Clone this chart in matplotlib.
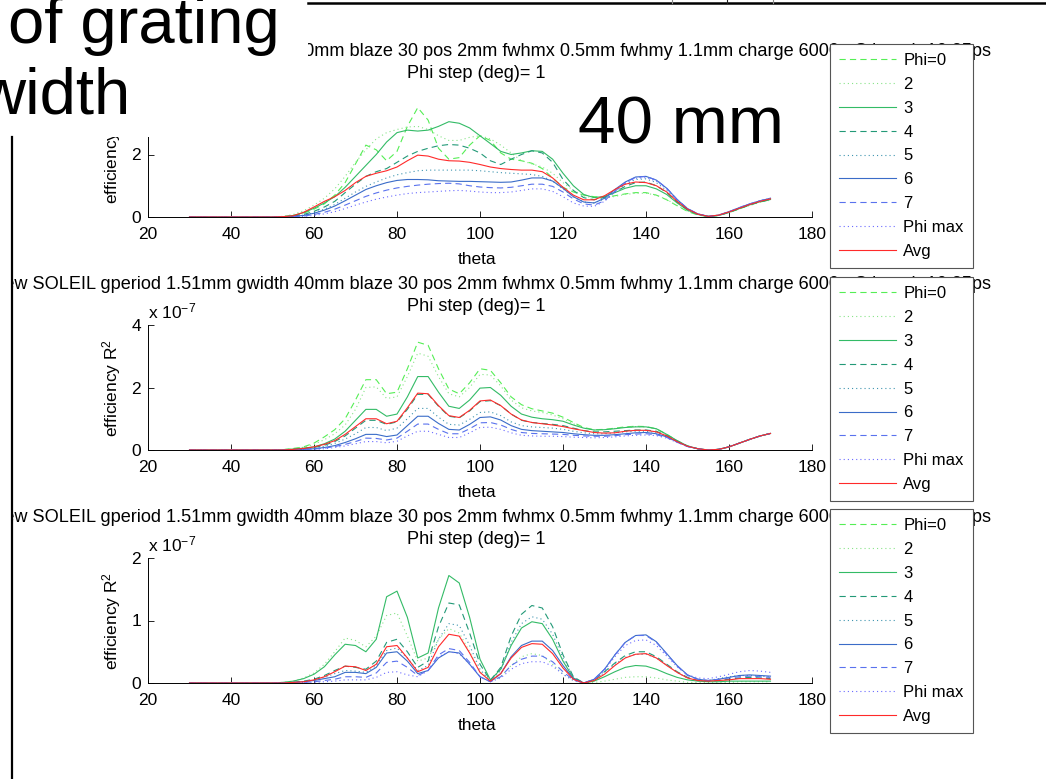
import matplotlib
matplotlib.use('Agg')
import matplotlib.pyplot as plt
from matplotlib.patches import Rectangle
from matplotlib.lines import Line2D
from matplotlib.transforms import offset_copy

# ---------------- data ----------------
THETA = [30, 50, 52.5, 55, 57.5, 60, 62.5, 65, 67.5, 70,
         72.5, 75, 77.5, 80, 82.5, 85, 87.5, 90, 92.5, 95,
         97.5, 100, 102.5, 105, 107.5, 110, 112.5, 115, 117.5, 120,
         122.5, 125, 127.5, 130, 132.5, 135, 137.5, 140, 142.5, 145,
         147.5, 150, 152.5, 155, 157.5, 160, 162.5, 165, 167.5, 170]

LABELS = ['Phi=0', '2', '3', '4', '5', '6', '7', 'Phi max', 'Avg']

# panel 1 (values in units of 1e-7)
p1_phi0 = [0, 0, 0.01, 0.04, 0.12, 0.25, 0.42, 0.7, 1.1, 1.7,
           2.3, 2.15, 1.8, 2.1, 2.9, 3.5, 3.1, 2.2, 1.85, 1.9,
           2.3, 2.6, 2.45, 2.05, 1.85, 1.8, 1.72, 1.55, 1.25, 0.95,
           0.8, 0.7, 0.65, 0.63, 0.68, 0.74, 0.78, 0.78, 0.7, 0.55,
           0.36, 0.18, 0.06, 0.02, 0.05, 0.14, 0.26, 0.38, 0.48, 0.55]
p1_s2 = [0, 0, 0.02, 0.08, 0.2, 0.38, 0.6, 0.9, 1.3, 1.75,
         2.15, 2.5, 2.7, 2.8, 2.88, 2.9, 2.8, 2.6, 2.45, 2.45,
         2.55, 2.6, 2.5, 2.3, 2.05, 1.8, 1.7, 1.6, 1.4, 1.1,
         0.85, 0.68, 0.6, 0.6, 0.66, 0.72, 0.76, 0.76, 0.7, 0.56,
         0.37, 0.19, 0.07, 0.02, 0.05, 0.14, 0.26, 0.37, 0.47, 0.54]
p1_s3 = [0, 0, 0.01, 0.05, 0.14, 0.28, 0.45, 0.65, 0.95, 1.3,
         1.65, 2.0, 2.4, 2.7, 2.78, 2.75, 2.78, 2.9, 3.05, 3.0,
         2.85, 2.6, 2.35, 2.1, 2.0, 2.05, 2.12, 2.1, 1.85, 1.4,
         1.0, 0.72, 0.62, 0.66, 0.78, 0.92, 1.0, 1.0, 0.9, 0.72,
         0.45, 0.22, 0.08, 0.02, 0.05, 0.15, 0.27, 0.39, 0.49, 0.56]
p1_s4 = [0, 0, 0.01, 0.03, 0.08, 0.18, 0.32, 0.5, 0.78, 1.05,
         1.3, 1.45, 1.55, 1.75, 1.95, 2.1, 2.2, 2.28, 2.32, 2.3,
         2.2, 2.05, 1.8, 1.68, 1.85, 2.0, 2.12, 2.05, 1.75, 1.2,
         0.85, 0.62, 0.55, 0.63, 0.8, 0.98, 1.1, 1.12, 1.0, 0.78,
         0.48, 0.23, 0.08, 0.02, 0.05, 0.15, 0.27, 0.39, 0.49, 0.56]
p1_s5 = [0, 0, 0.01, 0.02, 0.06, 0.14, 0.25, 0.4, 0.6, 0.8,
         0.98, 1.12, 1.25, 1.35, 1.42, 1.48, 1.5, 1.5, 1.5, 1.5,
         1.5, 1.48, 1.45, 1.42, 1.4, 1.38, 1.36, 1.3, 1.15, 0.9,
         0.65, 0.48, 0.45, 0.58, 0.82, 1.05, 1.2, 1.22, 1.1, 0.85,
         0.52, 0.25, 0.09, 0.02, 0.06, 0.16, 0.28, 0.4, 0.5, 0.58]
p1_s6 = [0, 0, 0, 0.02, 0.05, 0.12, 0.22, 0.35, 0.52, 0.7,
         0.88, 1.0, 1.1, 1.17, 1.2, 1.2, 1.19, 1.16, 1.15, 1.14,
         1.14, 1.13, 1.12, 1.11, 1.12, 1.18, 1.25, 1.25, 1.15, 0.92,
         0.65, 0.48, 0.45, 0.6, 0.88, 1.12, 1.28, 1.3, 1.18, 0.92,
         0.56, 0.27, 0.1, 0.02, 0.06, 0.17, 0.3, 0.42, 0.52, 0.6]
p1_s7 = [0, 0, 0, 0.01, 0.03, 0.08, 0.15, 0.25, 0.38, 0.52,
         0.66, 0.77, 0.86, 0.93, 0.98, 1.02, 1.05, 1.07, 1.08, 1.06,
         1.0, 0.96, 0.94, 0.93, 0.95, 1.0, 1.05, 1.05, 0.98, 0.8,
         0.58, 0.42, 0.38, 0.52, 0.82, 1.1, 1.27, 1.3, 1.18, 0.92,
         0.56, 0.27, 0.1, 0.02, 0.06, 0.17, 0.3, 0.42, 0.52, 0.6]
p1_max = [0, 0, 0, 0.01, 0.02, 0.05, 0.1, 0.17, 0.27, 0.38,
          0.48, 0.57, 0.64, 0.7, 0.75, 0.78, 0.8, 0.82, 0.84, 0.85,
          0.83, 0.8, 0.78, 0.78, 0.8, 0.85, 0.9, 0.9, 0.82, 0.65,
          0.45, 0.35, 0.34, 0.5, 0.8, 1.08, 1.24, 1.26, 1.15, 0.9,
          0.55, 0.26, 0.09, 0.02, 0.06, 0.17, 0.3, 0.42, 0.52, 0.6]
p1_avg = [0, 0, 0.01, 0.04, 0.15, 0.32, 0.5, 0.65, 0.85, 1.1,
          1.3, 1.4, 1.48, 1.6, 1.8, 1.98, 1.95, 1.85, 1.8, 1.79,
          1.75, 1.68, 1.6, 1.55, 1.52, 1.5, 1.5, 1.45, 1.25, 0.95,
          0.7, 0.55, 0.55, 0.68, 0.88, 1.05, 1.12, 1.1, 1.0, 0.8,
          0.5, 0.25, 0.09, 0.02, 0.06, 0.16, 0.28, 0.4, 0.5, 0.58]

# panel 2
p2_phi0 = [0, 0, 0.01, 0.05, 0.1, 0.22, 0.42, 0.65, 1.0, 1.6,
           2.25, 2.25, 1.8, 1.85, 2.6, 3.45, 3.35, 2.6, 1.95, 1.8,
           2.15, 2.6, 2.55, 2.15, 1.7, 1.45, 1.32, 1.25, 1.18, 1.05,
           0.88, 0.72, 0.65, 0.66, 0.7, 0.74, 0.76, 0.75, 0.68, 0.5,
           0.3, 0.13, 0.04, 0.0, 0.02, 0.1, 0.22, 0.34, 0.45, 0.53]
p2_s2 = [0, 0, 0.01, 0.04, 0.09, 0.18, 0.33, 0.52, 0.8, 1.3,
         2.0, 2.02, 1.65, 1.7, 2.35, 3.1, 3.0, 2.35, 1.8, 1.7,
         2.0, 2.42, 2.4, 2.05, 1.6, 1.35, 1.25, 1.2, 1.12, 1.0,
         0.84, 0.7, 0.64, 0.65, 0.69, 0.73, 0.75, 0.74, 0.67, 0.49,
         0.29, 0.13, 0.04, 0.0, 0.02, 0.1, 0.22, 0.34, 0.45, 0.53]
p2_s3 = [0, 0, 0.01, 0.03, 0.06, 0.1, 0.2, 0.35, 0.6, 0.95,
         1.3, 1.3, 1.08, 1.15, 1.7, 2.35, 2.35, 1.85, 1.4, 1.33,
         1.6, 1.98, 2.0, 1.75, 1.4, 1.15, 1.05, 1.0, 0.97, 0.92,
         0.8, 0.7, 0.64, 0.65, 0.68, 0.72, 0.74, 0.74, 0.68, 0.5,
         0.3, 0.13, 0.04, 0.0, 0.02, 0.1, 0.22, 0.34, 0.45, 0.53]
p2_s4 = [0, 0, 0, 0.02, 0.04, 0.08, 0.15, 0.27, 0.45, 0.7,
         0.95, 0.95, 0.82, 0.9, 1.3, 1.78, 1.78, 1.4, 1.08, 1.03,
         1.25, 1.55, 1.58, 1.42, 1.15, 0.95, 0.88, 0.85, 0.82, 0.78,
         0.7, 0.62, 0.58, 0.58, 0.6, 0.62, 0.64, 0.64, 0.6, 0.46,
         0.28, 0.12, 0.04, 0.0, 0.02, 0.1, 0.22, 0.34, 0.45, 0.53]
p2_s5 = [0, 0, 0, 0.01, 0.03, 0.06, 0.12, 0.21, 0.35, 0.52,
         0.72, 0.72, 0.62, 0.7, 1.0, 1.33, 1.33, 1.05, 0.82, 0.8,
         0.98, 1.2, 1.22, 1.1, 0.9, 0.78, 0.74, 0.72, 0.7, 0.66,
         0.6, 0.55, 0.52, 0.52, 0.55, 0.58, 0.6, 0.6, 0.56, 0.44,
         0.27, 0.12, 0.04, 0.0, 0.02, 0.1, 0.22, 0.34, 0.45, 0.53]
p2_s6 = [0, 0, 0, 0.01, 0.02, 0.04, 0.08, 0.14, 0.24, 0.36,
         0.5, 0.5, 0.43, 0.48, 0.78, 1.08, 1.08, 0.85, 0.66, 0.64,
         0.82, 1.04, 1.06, 0.96, 0.78, 0.66, 0.62, 0.6, 0.58, 0.56,
         0.52, 0.49, 0.47, 0.47, 0.49, 0.52, 0.55, 0.56, 0.52, 0.42,
         0.26, 0.12, 0.04, 0.0, 0.02, 0.1, 0.22, 0.34, 0.45, 0.53]
p2_s7 = [0, 0, 0, 0.01, 0.02, 0.03, 0.06, 0.11, 0.18, 0.27,
         0.38, 0.37, 0.32, 0.38, 0.6, 0.83, 0.83, 0.66, 0.52, 0.52,
         0.68, 0.87, 0.88, 0.8, 0.66, 0.56, 0.53, 0.52, 0.51, 0.5,
         0.47, 0.45, 0.44, 0.44, 0.46, 0.49, 0.51, 0.52, 0.49, 0.4,
         0.25, 0.11, 0.04, 0.0, 0.02, 0.1, 0.22, 0.34, 0.45, 0.53]
p2_max = [0, 0, 0, 0, 0.01, 0.02, 0.04, 0.08, 0.13, 0.2,
          0.27, 0.27, 0.23, 0.28, 0.45, 0.6, 0.6, 0.5, 0.4, 0.4,
          0.55, 0.72, 0.73, 0.66, 0.55, 0.47, 0.45, 0.44, 0.44, 0.43,
          0.41, 0.4, 0.39, 0.4, 0.42, 0.45, 0.47, 0.48, 0.46, 0.38,
          0.24, 0.11, 0.04, 0.0, 0.02, 0.1, 0.22, 0.34, 0.45, 0.53]
p2_avg = [0, 0, 0, 0.02, 0.05, 0.1, 0.18, 0.3, 0.5, 0.75,
          1.0, 1.0, 0.84, 0.92, 1.35, 1.82, 1.8, 1.42, 1.1, 1.04,
          1.27, 1.57, 1.6, 1.42, 1.15, 0.96, 0.88, 0.84, 0.8, 0.75,
          0.68, 0.62, 0.56, 0.54, 0.55, 0.6, 0.63, 0.63, 0.58, 0.45,
          0.27, 0.12, 0.04, 0.0, 0.02, 0.1, 0.22, 0.34, 0.45, 0.53]

# panel 3
p3_phi0 = [0, 0, 0, 0, 0, 0, 0, 0, 0, 0,
           0, 0, 0, 0, 0, 0, 0, 0, 0, 0,
           0, 0, 0, 0, 0, 0, 0, 0, 0, 0,
           0, 0, 0, 0, 0, 0, 0, 0, 0, 0,
           0, 0, 0, 0, 0, 0, 0, 0, 0, 0]
p3_s2 = [0, 0, 0.01, 0.03, 0.08, 0.16, 0.3, 0.5, 0.72, 0.68,
         0.58, 0.75, 1.08, 1.12, 0.75, 0.35, 0.4, 0.7, 0.87, 0.8,
         0.5, 0.18, 0.04, 0.1, 0.28, 0.42, 0.47, 0.44, 0.3, 0.14,
         0.04, 0.0, 0.01, 0.03, 0.06, 0.09, 0.1, 0.1, 0.08, 0.05,
         0.03, 0.01, 0.01, 0.01, 0.01, 0.01, 0.02, 0.02, 0.02, 0.02]
p3_s3 = [0, 0, 0.01, 0.03, 0.07, 0.14, 0.26, 0.45, 0.62, 0.6,
         0.5, 0.7, 1.38, 1.47, 1.05, 0.4, 0.48, 1.2, 1.72, 1.6,
         1.05, 0.38, 0.05, 0.22, 0.6, 0.88, 0.98, 0.95, 0.7, 0.35,
         0.08, 0.0, 0.03, 0.1, 0.18, 0.25, 0.28, 0.27, 0.22, 0.15,
         0.09, 0.05, 0.03, 0.02, 0.02, 0.03, 0.03, 0.03, 0.03, 0.03]
p3_s4 = [0, 0, 0, 0.01, 0.03, 0.06, 0.12, 0.2, 0.27, 0.25,
         0.22, 0.35, 0.65, 0.7, 0.5, 0.25, 0.35, 0.9, 1.28, 1.25,
         0.8, 0.3, 0.04, 0.25, 0.75, 1.1, 1.24, 1.2, 0.9, 0.45,
         0.1, 0.0, 0.05, 0.18, 0.32, 0.44, 0.5, 0.5, 0.42, 0.3,
         0.18, 0.09, 0.04, 0.03, 0.04, 0.06, 0.08, 0.09, 0.08, 0.07]
p3_s5 = [0, 0, 0, 0.01, 0.02, 0.05, 0.09, 0.15, 0.2, 0.19,
         0.17, 0.28, 0.52, 0.56, 0.4, 0.2, 0.28, 0.7, 0.95, 0.92,
         0.6, 0.22, 0.03, 0.2, 0.65, 0.95, 1.06, 1.02, 0.78, 0.4,
         0.09, 0.0, 0.05, 0.17, 0.3, 0.41, 0.46, 0.46, 0.4, 0.29,
         0.17, 0.08, 0.04, 0.04, 0.07, 0.1, 0.12, 0.12, 0.11, 0.1]
p3_s6 = [0, 0, 0, 0.01, 0.02, 0.04, 0.07, 0.1, 0.17, 0.17,
         0.15, 0.25, 0.48, 0.5, 0.35, 0.15, 0.2, 0.4, 0.5, 0.48,
         0.3, 0.1, 0.02, 0.15, 0.42, 0.6, 0.67, 0.67, 0.52, 0.28,
         0.07, 0.0, 0.06, 0.22, 0.45, 0.65, 0.76, 0.77, 0.66, 0.47,
         0.28, 0.13, 0.06, 0.04, 0.06, 0.09, 0.12, 0.13, 0.12, 0.11]
p3_s7 = [0, 0, 0, 0, 0.01, 0.02, 0.04, 0.06, 0.1, 0.1,
         0.09, 0.16, 0.33, 0.35, 0.25, 0.12, 0.2, 0.45, 0.55, 0.52,
         0.33, 0.1, 0.02, 0.1, 0.28, 0.38, 0.43, 0.43, 0.34, 0.18,
         0.05, 0.0, 0.06, 0.22, 0.45, 0.65, 0.76, 0.76, 0.65, 0.46,
         0.27, 0.12, 0.06, 0.04, 0.06, 0.08, 0.1, 0.11, 0.1, 0.09]
p3_max = [0, 0, 0, 0, 0.01, 0.01, 0.02, 0.03, 0.05, 0.05,
          0.05, 0.09, 0.17, 0.18, 0.13, 0.1, 0.2, 0.42, 0.5, 0.47,
          0.3, 0.1, 0.02, 0.08, 0.22, 0.31, 0.34, 0.34, 0.27, 0.14,
          0.04, 0.0, 0.06, 0.2, 0.42, 0.6, 0.68, 0.69, 0.6, 0.43,
          0.26, 0.13, 0.08, 0.07, 0.1, 0.14, 0.18, 0.2, 0.19, 0.17]
p3_avg = [0, 0, 0, 0.01, 0.02, 0.05, 0.1, 0.18, 0.27, 0.26,
          0.2, 0.3, 0.58, 0.6, 0.4, 0.18, 0.25, 0.58, 0.78, 0.75,
          0.48, 0.17, 0.03, 0.15, 0.4, 0.57, 0.63, 0.62, 0.47, 0.24,
          0.06, 0.0, 0.04, 0.14, 0.28, 0.4, 0.46, 0.47, 0.4, 0.28,
          0.17, 0.08, 0.04, 0.03, 0.04, 0.05, 0.07, 0.07, 0.07, 0.06]

XTICKS = [20, 40, 60, 80, 100, 120, 140, 160, 180]
YTICKS_1 = [0, 2, 4]
YTICKS_2 = [0, 2, 4]
YTICKS_3 = [0, 1, 2]
TITLE_MAIN = ('SR New SOLEIL gperiod 1.51mm gwidth 40mm blaze 30 pos 2mm fwhmx 0.5mm '
              'fwhmy 1.1mm charge 6000 pC length 10.35ps')
SUBTITLE = 'Phi step (deg)= 1'

# ---------------- styling ----------------
COLORS = ['#55ee55', '#88e488', '#33bb66', '#229977', '#3f95b0',
          '#3a6cc8', '#5a72ee', '#6b6bff', '#ff2a2a']
STYLES = [(0, (4.5, 3)), (0, (0.8, 2.2)), '-', (0, (4.5, 3)), (0, (0.8, 2.2)),
          '-', (0, (4.5, 3)), (0, (0.8, 2.2)), '-']

plt.rcParams.update({
    'font.family': ['Liberation Sans', 'DejaVu Sans'],
    'mathtext.fontset': 'custom',
    'mathtext.rm': 'Liberation Sans',
    'mathtext.it': 'Liberation Sans:italic',
    'mathtext.bf': 'Liberation Sans:bold',
    'lines.scale_dashes': False,
    'axes.linewidth': 0.7,
})

W, H = 1046, 779
fig = plt.figure(figsize=(W / 100, H / 100), dpi=100)


def fx(px):
    return px / W


def fy(py):
    return 1 - py / H


panels = [
    (217, [p1_phi0, p1_s2, p1_s3, p1_s4, p1_s5, p1_s6, p1_s7, p1_max, p1_avg], 4, YTICKS_1, 44),
    (450, [p2_phi0, p2_s2, p2_s3, p2_s4, p2_s5, p2_s6, p2_s7, p2_max, p2_avg], 4, YTICKS_2, 277),
    (683, [p3_phi0, p3_s2, p3_s3, p3_s4, p3_s5, p3_s6, p3_s7, p3_max, p3_avg], 2, YTICKS_3, 509),
]

for bottom_px, series, ymax, yticks, leg_top in panels:
    ax = fig.add_axes([fx(148), fy(bottom_px), 664 / W, 125 / H])
    handles = []
    for vals, col, ls, lab in zip(series, COLORS, STYLES, LABELS):
        h, = ax.plot(THETA, vals, color=col, linestyle=ls, linewidth=0.8, label=lab)
        handles.append(h)
    ax.set_xlim(20, 180)
    ax.set_ylim(0, ymax)
    ax.set_xticks(XTICKS)
    ax.set_yticks(yticks)
    for s in ('top', 'right'):
        ax.spines[s].set_visible(False)
    ax.tick_params(direction='in', length=4.5, width=0.6, labelsize=12.5)
    ax.tick_params(axis='x', pad=7)
    ax.tick_params(axis='y', pad=5)
    ax.set_xlabel('theta', fontsize=12.5, va='top')
    ax.xaxis.set_label_coords(0.495, -0.28)
    ax.set_ylabel('efficiency R$^2$', fontsize=12.5)
    ax.yaxis.set_label_coords(-0.038, 0.5)
    ax.text(0, 1, 'x 10$^{-7}$', fontsize=12.5, ha='left', va='baseline',
            transform=offset_copy(ax.transAxes, fig=fig, x=0, y=7, units='dots'))
    ax.set_title(TITLE_MAIN + '\n' + SUBTITLE, fontsize=13.1, linespacing=1.38, pad=10,
                 x=0.494)
    leg = ax.legend(handles=handles, loc='upper left',
                    bbox_to_anchor=(fx(830), fy(leg_top)), bbox_transform=fig.transFigure,
                    borderaxespad=0, fancybox=False, framealpha=1, edgecolor='#555555',
                    fontsize=12, handlelength=3.4, handletextpad=0.45,
                    labelspacing=0.53, borderpad=0.55)
    leg.get_frame().set_linewidth(0.8)

# ---------------- slide overlay ----------------
fig.add_artist(Rectangle((0, fy(137)), fx(308), 137 / H, transform=fig.transFigure,
                         facecolor='white', edgecolor='none', zorder=10))
fig.add_artist(Rectangle((0, 0), fx(12), fy(137), transform=fig.transFigure,
                         facecolor='white', edgecolor='none', zorder=10))
fig.add_artist(Line2D([fx(12), fx(12)], [fy(137), fy(779)], transform=fig.transFigure,
                      color='black', linewidth=1.6, zorder=11))
fig.add_artist(Line2D([fx(308), fx(1046)], [fy(3), fy(3)], transform=fig.transFigure,
                      color='black', linewidth=1.8, zorder=11))
for xv, cv in ((672, '#888888'), (727, '#222222'), (773, '#888888')):
    fig.add_artist(Line2D([fx(xv), fx(xv)], [fy(0), fy(3)], transform=fig.transFigure,
                          color=cv, linewidth=0.8, zorder=11))

fig.text(fx(8), fy(43), 'of grating', fontsize=47, ha='left', va='baseline', zorder=12)
fig.text(fx(-22), fy(113), 'width', fontsize=47, ha='left', va='baseline', zorder=12)
fig.text(fx(578), fy(143), '40 mm', fontsize=48.5, ha='left', va='baseline', zorder=12)

fig.savefig('out.png', dpi=100)
